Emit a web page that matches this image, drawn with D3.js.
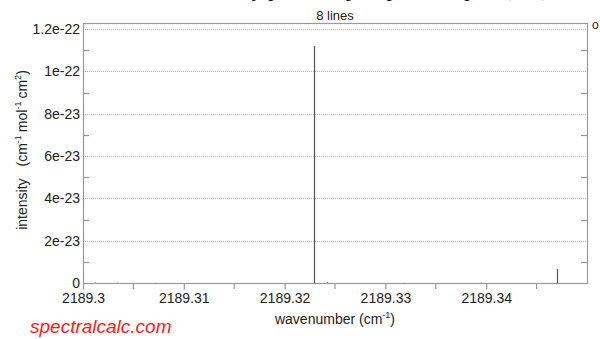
<!DOCTYPE html>
<html>
<head>
<meta charset="utf-8">
<script src="https://cdn.jsdelivr.net/npm/d3@7"></script>
<style>
  html, body { margin: 0; padding: 0; background: #fff; }
  svg { display: block; }
  text { font-family: "Liberation Sans", Arial, sans-serif; fill: #222; }
</style>
</head>
<body>
<svg id="chart" width="600" height="339"></svg>
<script>
// Line positions (cm-1) and intensities (cm-1/(molecule cm-2))
const wavenumbers = [2189.3012, 2189.3034, 2189.3071, 2189.32287, 2189.32416, 2189.3318, 2189.3395, 2189.3470];
const intensities = [2e-25, 1.5e-25, 1e-25, 1.12e-22, 3e-25, 1e-25, 1.5e-25, 6.6e-24];
const xTicks = [2189.30, 2189.31, 2189.32, 2189.33, 2189.34];
const xTickLabels = ["2189.3", "2189.31", "2189.32", "2189.33", "2189.34"];
const yTicks = [0, 2e-23, 4e-23, 6e-23, 8e-23, 1e-22, 1.2e-22];
const yTickLabels = ["0", "2e-23", "4e-23", "6e-23", "8e-23", "1e-22", "1.2e-22"];
const yMinorTicks = [1e-23, 3e-23, 5e-23, 7e-23, 9e-23, 1.1e-22];
const xMinorTicks = [2189.305, 2189.315, 2189.325, 2189.335, 2189.345];

const svg = d3.select("#chart");
const plotLeft = 83, plotRight = 587, plotTop = 23, plotBottom = 283;

const x = d3.scaleLinear().domain([2189.30, 2189.35]).range([plotLeft, plotRight]);
const y = d3.scaleLinear().domain([0, 1.2285e-22]).range([plotBottom, plotTop]);

// page heading, sitting mostly above the visible area
svg.append("text")
  .attr("x", 345).attr("y", -4)
  .attr("text-anchor", "middle")
  .style("font-family", "'Liberation Serif', serif")
  .style("font-size", "22px")
  .style("fill", "#111")
  .text("Line intensity plot: simple spectrum plot (CO)");

// horizontal dotted gridlines
svg.append("g").selectAll("line").data(yTicks).join("line")
  .attr("x1", plotLeft).attr("x2", plotRight)
  .attr("y1", d => Math.round(y(d)) + 0.5).attr("y2", d => Math.round(y(d)) + 0.5)
  .attr("stroke", "#bbb").attr("stroke-width", 1).attr("stroke-dasharray", "1,1");

// frame
svg.append("rect")
  .attr("x", plotLeft + 0.5).attr("y", plotTop + 0.5)
  .attr("width", plotRight - plotLeft).attr("height", plotBottom - plotTop)
  .attr("fill", "none").attr("stroke", "#999").attr("stroke-width", 1.2);

// x axis: labels and outward ticks
const xAxis = d3.axisBottom(x)
  .tickValues(xTicks)
  .tickFormat((d, i) => xTickLabels[i])
  .tickSize(6).tickPadding(4);
const gx = svg.append("g").attr("transform", `translate(0,${plotBottom + 0.5})`).call(xAxis);
gx.select(".domain").remove();
gx.selectAll(".tick line").attr("stroke", "#999").attr("stroke-width", 1.2);
gx.selectAll(".tick text").style("font-size", "14px").attr("fill", "#222");
svg.append("g").selectAll("line").data(xMinorTicks).join("line")
  .attr("x1", d => x(d)).attr("x2", d => x(d))
  .attr("y1", plotBottom).attr("y2", plotBottom + 6)
  .attr("stroke", "#999").attr("stroke-width", 1.2);

// y axis labels
const yAxis = d3.axisLeft(y)
  .tickValues(yTicks)
  .tickFormat((d, i) => yTickLabels[i])
  .tickSize(0).tickPadding(3);
const gy = svg.append("g").attr("transform", `translate(${plotLeft},0)`).call(yAxis);
gy.select(".domain").remove();
gy.selectAll(".tick text").style("font-size", "14px").attr("fill", "#222");

// inward minor ticks on both vertical edges
svg.append("g").selectAll("line").data(yMinorTicks).join("line")
  .attr("x1", plotLeft).attr("x2", plotLeft + 6)
  .attr("y1", d => Math.round(y(d)) + 0.5).attr("y2", d => Math.round(y(d)) + 0.5)
  .attr("stroke", "#999").attr("stroke-width", 1.2);
svg.append("g").selectAll("line").data(yMinorTicks).join("line")
  .attr("x1", plotRight - 6).attr("x2", plotRight)
  .attr("y1", d => Math.round(y(d)) + 0.5).attr("y2", d => Math.round(y(d)) + 0.5)
  .attr("stroke", "#999").attr("stroke-width", 1.2);

// spectral lines as sticks
svg.append("g").selectAll("line").data(wavenumbers).join("line")
  .attr("x1", d => Math.round(x(d)) + 0.5).attr("x2", d => Math.round(x(d)) + 0.5)
  .attr("y1", plotBottom).attr("y2", (d, i) => y(intensities[i]))
  .attr("stroke", "#555").attr("stroke-width", 1.2);

// title
svg.append("text")
  .attr("x", 335).attr("y", 20)
  .attr("text-anchor", "middle")
  .style("font-size", "13px")
  .text("8 lines");

// legend marker at the right edge
svg.append("text")
  .attr("x", 592).attr("y", 29)
  .style("font-size", "12px")
  .text("o");

// axis titles
const xl = svg.append("text")
  .attr("x", 335).attr("y", 324)
  .attr("text-anchor", "middle")
  .style("font-size", "14px");
xl.append("tspan").text("wavenumber (cm");
xl.append("tspan").attr("dy", -6).style("font-size", "9px").text("-1");
xl.append("tspan").attr("dy", 6).text(")");

const yl = svg.append("text")
  .attr("transform", "translate(27,150) rotate(-90)")
  .attr("text-anchor", "middle")
  .style("font-size", "14px");
yl.append("tspan").text("intensity");
yl.append("tspan").attr("dx", 12).text("(cm");
yl.append("tspan").attr("dy", -6).style("font-size", "9px").text("-1");
yl.append("tspan").attr("dy", 6).attr("dx", 3).text("mol");
yl.append("tspan").attr("dy", -6).style("font-size", "9px").text("-1");
yl.append("tspan").attr("dy", 6).attr("dx", 3).text("cm");
yl.append("tspan").attr("dy", -6).style("font-size", "9px").text("2");
yl.append("tspan").attr("dy", 6).text(")");

// site credit
svg.append("text")
  .attr("x", 30).attr("y", 333)
  .style("font-size", "19px").style("font-style", "italic")
  .style("fill", "#ff1a1a")
  .text("spectralcalc.com");
</script>
</body>
</html>
